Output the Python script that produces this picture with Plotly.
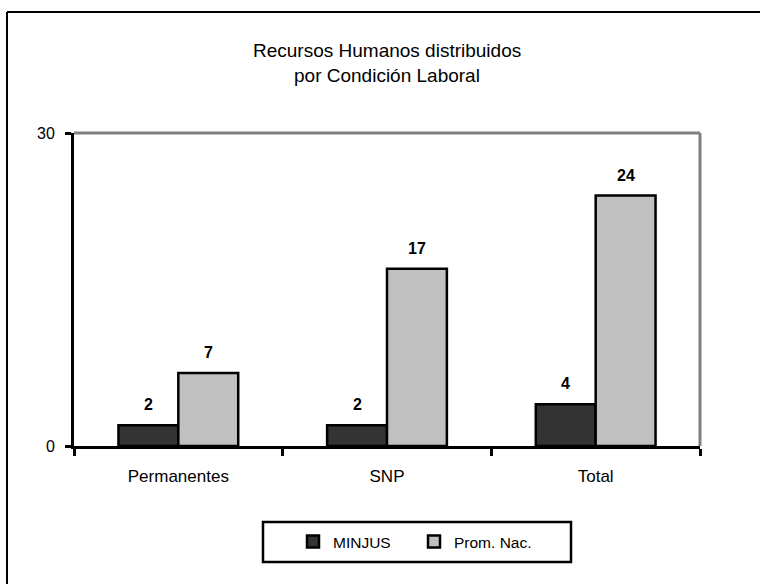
import plotly.graph_objects as go

categories = ["Permanentes", "SNP", "Total"]
minjus = [2, 2, 4]
prom_nac = [7, 17, 24]
series_names = ["MINJUS", "Prom. Nac."]
y_ticks = [0, 30]
title_lines = ["Recursos Humanos distribuidos", "por Condición Laboral"]

FONT = "Liberation Sans Narrow, Arial Narrow, Liberation Sans, Arial, sans-serif"

fig = go.Figure()
fig.add_trace(go.Bar(
    x=categories, y=minjus, name=series_names[0],
    marker=dict(color="#333333", line=dict(color="black", width=2.5)),
))
fig.add_trace(go.Bar(
    x=categories, y=prom_nac, name=series_names[1],
    marker=dict(color="#C0C0C0", line=dict(color="black", width=2.5)),
))

W, H = 760, 584
L, R, T, B = 74, 60, 133, 138
pw, ph = W - L - R, H - T - B

def px2paper_x(px):
    return (px - L) / pw

def px2paper_y(py):
    return (H - B - py) / ph

annotations = []
for line, yc in zip(title_lines, [50, 76]):
    annotations.append(dict(
        text=line, xref="paper", yref="paper",
        x=px2paper_x(387), y=px2paper_y(yc), xanchor="center", yanchor="middle",
        showarrow=False,
        font=dict(family=FONT, size=19, color="black"),
    ))

# data labels above each bar (data coordinates, shifted to each bar of the group)
BAR_HALF = 30
for values, xs in ((minjus, -BAR_HALF), (prom_nac, BAR_HALF)):
    for cat, v in zip(categories, values):
        annotations.append(dict(
            text=str(v), x=cat, y=v, xref="x", yref="y",
            xanchor="center", yanchor="bottom", xshift=xs, yshift=10,
            showarrow=False,
            font=dict(family=FONT, size=16, color="black", weight="bold"),
        ))

fig.update_layout(
    width=W, height=H,
    margin=dict(l=L, r=R, t=T, b=B, pad=0),
    paper_bgcolor="white", plot_bgcolor="white",
    barmode="group", bargap=0.426, bargroupgap=0,
    font=dict(family=FONT, size=16, color="black"),
    showlegend=True,
    legend=dict(
        orientation="h", x=px2paper_x(414), xanchor="center",
        y=px2paper_y(525), yanchor="top",
        bgcolor="rgba(0,0,0,0)", borderwidth=0,
        font=dict(family=FONT, size=15.5, color="black"),
        itemwidth=30, entrywidth=76,
    ),
    xaxis=dict(
        type="category", showgrid=False, showline=True, linecolor="black",
        linewidth=3, ticks="outside", tickson="boundaries", ticklen=7,
        tickwidth=3, tickcolor="black", tickfont=dict(family=FONT, size=17),
        zeroline=False, ticklabelstandoff=13,
    ),
    yaxis=dict(
        range=[0, 30], tickvals=y_ticks, showgrid=False, showline=True,
        linecolor="black", linewidth=3, ticks="outside", ticklen=6,
        tickwidth=3, tickcolor="black", tickfont=dict(family=FONT, size=16),
        zeroline=False, ticklabelstandoff=7,
    ),
    annotations=annotations,
    shapes=[
        # plot area border (top and right, gray)
        dict(type="line", xref="paper", yref="paper", x0=0, x1=1, y0=1, y1=1,
             line=dict(color="#808080", width=3), layer="below"),
        dict(type="line", xref="paper", yref="paper", x0=1, x1=1, y0=0, y1=1,
             line=dict(color="#808080", width=3), layer="below"),
        # outer chart frame (left and top visible)
        dict(type="line", xref="paper", yref="paper",
             x0=px2paper_x(7), x1=px2paper_x(7), y0=px2paper_y(12), y1=px2paper_y(600),
             line=dict(color="black", width=2)),
        dict(type="line", xref="paper", yref="paper",
             x0=px2paper_x(7), x1=px2paper_x(780), y0=px2paper_y(12), y1=px2paper_y(12),
             line=dict(color="black", width=2)),
        # legend box
        dict(type="rect", xref="paper", yref="paper",
             x0=px2paper_x(263), x1=px2paper_x(571),
             y0=px2paper_y(562), y1=px2paper_y(522),
             line=dict(color="black", width=2.5), fillcolor="rgba(0,0,0,0)"),
    ],
)

fig.write_html(
    "out.html",
    config={"displayModeBar": False},
    post_script="document.body.style.margin='0';document.body.style.padding='0';",
)
